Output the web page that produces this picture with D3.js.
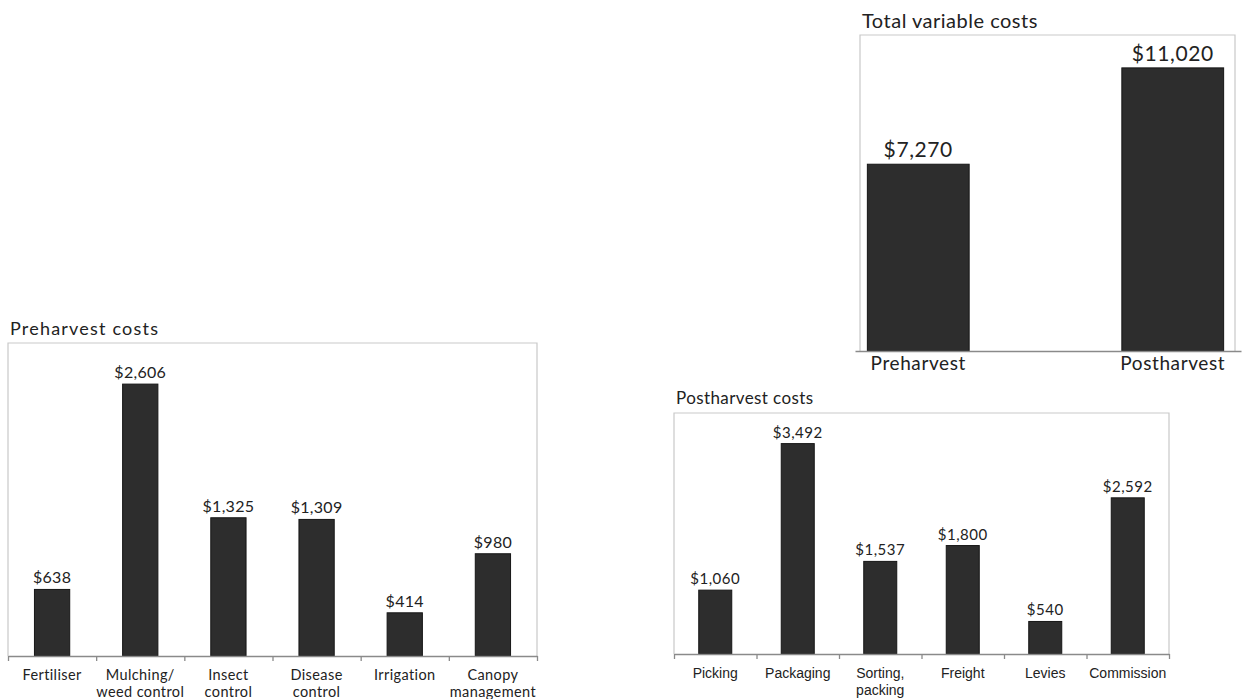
<!DOCTYPE html>
<html>
<head>
<meta charset="utf-8">
<script src="https://cdn.jsdelivr.net/npm/d3@7"></script>
<style>
  html, body { margin: 0; padding: 0; background: #fff; }
  svg { display: block; }
</style>
</head>
<body>
<svg id="chart" width="1249" height="699"></svg>
<script>
// ---- data ----
const preCategories = ["Fertiliser", "Mulching/\nweed control", "Insect\ncontrol", "Disease\ncontrol", "Irrigation", "Canopy\nmanagement"];
const preValues = [638, 2606, 1325, 1309, 414, 980];

const postCategories = ["Picking", "Packaging", "Sorting,\npacking", "Freight", "Levies", "Commission"];
const postValues = [1060, 3492, 1537, 1800, 540, 2592];

const totalCategories = ["Preharvest", "Postharvest"];
const totalValues = [7270, 11020];

const titles = ["Preharvest costs", "Postharvest costs", "Total variable costs"];

// ---- drawing ----
const svg = d3.select("#chart");
const fmt = d3.format("$,");
const GEO = "Lato, 'Open Sans', sans-serif";
const ARIAL = "'Liberation Sans', Arial, sans-serif";
const BAR = "#2d2d2d", BAR_STROKE = "#161616", TXT = "#222";

function panel(opt) {
  const g = svg.append("g");
  const x = d3.scaleBand().domain(opt.cats).range([opt.bx0, opt.bx1])
    .paddingInner(opt.pi).paddingOuter(opt.po);
  const y = d3.scaleLinear().domain([0, opt.ymax]).range([opt.base, opt.top]);

  // frame
  g.append("path")
    .attr("d", `M${opt.left},${opt.base}V${opt.top}H${opt.right}V${opt.base}`)
    .attr("fill", "none").attr("stroke", "#c9c9c9").attr("stroke-width", 1.2);

  // title
  g.append("text").attr("x", opt.left + 2).attr("y", opt.top - opt.titleGap)
    .attr("font-family", GEO).attr("font-size", opt.titleSize)
    .attr("letter-spacing", opt.titleLs).attr("fill", TXT)
    .text(opt.title);

  // bars
  g.selectAll("rect.bar").data(opt.values).join("rect")
    .attr("class", "bar")
    .attr("x", (d, i) => x(opt.cats[i]))
    .attr("width", x.bandwidth())
    .attr("y", d => y(d))
    .attr("height", d => y(0) - y(d))
    .attr("fill", BAR).attr("stroke", BAR_STROKE).attr("stroke-width", 1);

  // value labels
  g.selectAll("text.val").data(opt.values).join("text")
    .attr("class", "val")
    .attr("x", (d, i) => x(opt.cats[i]) + x.bandwidth() / 2)
    .attr("y", d => y(d) - opt.valGap)
    .attr("text-anchor", "middle")
    .attr("font-family", GEO).attr("font-size", opt.valSize)
    .attr("letter-spacing", opt.valLs).attr("fill", TXT)
    .text(d => fmt(d));

  // axis
  if (opt.ticks) {
    const n = opt.cats.length;
    const tx = d3.scaleLinear().domain([0, n]).range([opt.bx0, opt.bx1]);
    const ax = g.append("g").attr("transform", `translate(0,${opt.base})`)
      .call(d3.axisBottom(tx).tickValues(d3.range(n + 1)).tickFormat("").tickSize(5).tickSizeOuter(0));
    ax.selectAll("path,line").attr("stroke", "#8a8a8a").attr("stroke-width", 1.3);
  } else {
    const tx = d3.scaleLinear().domain([0, 1]).range([opt.axisX0, opt.axisX1]);
    const ax = g.append("g").attr("transform", `translate(0,${opt.base})`)
      .call(d3.axisBottom(tx).tickValues([]).tickSizeOuter(0));
    ax.selectAll("path,line").attr("stroke", "#8a8a8a").attr("stroke-width", 1.3);
  }

  // category labels
  opt.cats.forEach((c, i) => {
    const t = g.append("text")
      .attr("x", x(c) + x.bandwidth() / 2)
      .attr("y", opt.base + opt.catDy)
      .attr("text-anchor", "middle")
      .attr("font-family", opt.catFont).attr("font-size", opt.catSize)
      .attr("letter-spacing", opt.catLs).attr("fill", TXT);
    c.split("\n").forEach((line, k) => {
      t.append("tspan").attr("x", x(c) + x.bandwidth() / 2)
        .attr("dy", k === 0 ? 0 : opt.lineH).text(line);
    });
  });
}

panel({
  cats: preCategories, values: preValues, title: titles[0],
  left: 8, right: 537, top: 343, base: 656, bx0: 8, bx1: 537, ymax: 3000,
  pi: 0.6, po: 0.3, titleSize: 18, titleLs: 1.2, titleGap: 8,
  valSize: 16, valLs: 0.3, valGap: 6,
  ticks: true, catFont: GEO, catSize: 14.5, catLs: 0.4, catDy: 24, lineH: 17
});

panel({
  cats: postCategories, values: postValues, title: titles[1],
  left: 674, right: 1169, top: 413, base: 654, bx0: 674, bx1: 1169, ymax: 4000,
  pi: 0.6, po: 0.3, titleSize: 17, titleLs: 0.4, titleGap: 9,
  valSize: 15, valLs: 0.5, valGap: 6,
  ticks: true, catFont: ARIAL, catSize: 14, catLs: 0, catDy: 24, lineH: 17
});

panel({
  cats: totalCategories, values: totalValues, title: titles[2],
  left: 860, right: 1235, top: 35, base: 351, bx0: 861, bx1: 1230, ymax: 12300,
  pi: 0.6, po: 0.025, titleSize: 20, titleLs: 0.5, titleGap: 7,
  valSize: 21, valLs: 0.6, valGap: 7,
  ticks: false, axisX0: 855, axisX1: 1241, catFont: GEO, catSize: 19, catLs: 0.6, catDy: 19, lineH: 18
});
</script>
</body>
</html>
